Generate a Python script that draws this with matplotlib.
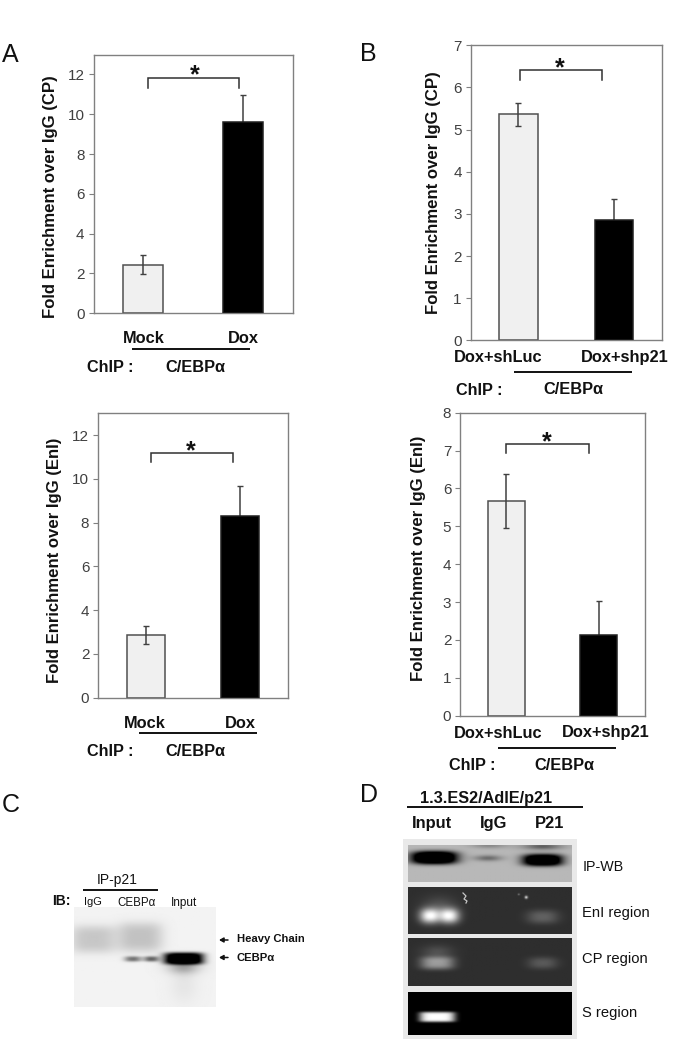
import numpy as np
import matplotlib
matplotlib.use("Agg")
import matplotlib.pyplot as plt

W, H = 673, 1042
plt.rcParams['font.family'] = ['Liberation Sans', 'DejaVu Sans']

# ---------- data ----------
values_a1 = [2.45, 9.62]
errors_a1 = [0.47, 1.35]
values_b1 = [5.36, 2.86]
errors_b1 = [0.28, 0.49]
values_a2 = [2.87, 8.30]
errors_a2 = [0.43, 1.37]
values_b2 = [5.67, 2.13]
errors_b2 = [0.71, 0.91]
cats_a = ["Mock", "Dox"]
cats_b = ["Dox+shLuc", "Dox+shp21"]
ylabel_cp = "Fold Enrichment over IgG (CP)"
ylabel_eni = "Fold Enrichment over IgG (EnI)"
ticks_a = [0, 2, 4, 6, 8, 10, 12]
ticks_b1 = [0, 1, 2, 3, 4, 5, 6, 7]
ticks_b2 = [0, 1, 2, 3, 4, 5, 6, 7, 8]

# band tuples: x, y, half-width, half-height, amplitude, sharpness
bands_c = [(93, 939, 23, 14, -0.17, 3.5), (140, 937, 23, 15, -0.19, 3.5),
           (132, 959, 8, 2.8, -0.36, 2.5), (152, 959, 7, 2.8, -0.42, 2.5),
           (142, 959, 16, 2.6, -0.15, 4),
           (184, 958.5, 20, 6.0, -1.3, 4.0),
           (184, 967, 16, 7, -0.30, 2), (184, 985, 14, 18, -0.05, 2)]
bands_d_wb = [(434, 857.5, 23, 6.5, -1.3, 3.0), (488, 858, 14, 3, -0.30, 2),
              (543, 860, 20, 6.0, -1.2, 3.0), (489, 845, 18, 3, -0.18, 2),
              (543, 846, 20, 3.5, -0.35, 2)]
bands_d_eni = [(429.5, 916, 10, 7.5, 0.78, 2.2), (449, 916, 10, 7.5, 0.78, 2.2),
               (439, 906, 17, 10, 0.14, 2), (543, 917, 16, 7, 0.20, 2.5),
               (526.5, 897, 1.5, 1.5, 0.7, 2), (519, 894, 1, 1, 0.3, 2)]
bands_d_cp = [(437, 963, 17, 6.5, 0.42, 3), (437, 952, 16, 7, 0.14, 2),
              (543, 963, 15, 6, 0.17, 2.5)]
bands_d_s = [(437, 1017, 18, 5.2, 1.0, 5)]


def blot(x0, x1, y0, y1, base, bands):
    xs = np.arange(x0, x1 + 1)
    ys = np.arange(y0, y1 + 1)
    X, Y = np.meshgrid(xs, ys)
    img = np.full(X.shape, float(base))
    for (bx, by, hw, hh, amp, p) in bands:
        img += amp * np.exp(-(np.abs((X - bx) / hw) ** p + np.abs((Y - by) / hh) ** p))
    return np.clip(img, 0, 1)


fig = plt.figure(figsize=(W / 100, H / 100), dpi=100, facecolor='white')


def axes_px(l, r, t, b):
    return fig.add_axes([l / W, 1 - b / H, (r - l) / W, (b - t) / H])


def bar_panel(box, vals, errs, ticks, ymax):
    ax = axes_px(*box)
    ax.errorbar([0, 1], vals, yerr=errs, fmt='none', ecolor='#404040',
                elinewidth=1.1, capsize=2.4, capthick=1.0, zorder=3)
    ax.bar([0], vals[0], width=0.4, color='#f0f0f0', edgecolor='#505050',
           linewidth=1.1, zorder=2)
    ax.bar([1], vals[1], width=0.4, color='#000000', edgecolor='#202020',
           linewidth=1.1, zorder=4)
    ax.set_xlim(-0.5, 1.5)
    ax.set_ylim(0, ymax)
    ax.set_xticks([])
    ax.set_yticks(ticks)
    ax.tick_params(axis='y', length=3.5, width=0.8, color='#808080',
                   labelcolor='#404040', labelsize=11, pad=3)
    for s in ax.spines.values():
        s.set_color('#808080')
        s.set_linewidth(1.0)
    return ax


bar_panel((93.5, 293, 54.5, 313.3), values_a1, errors_a1, ticks_a, 13)
bar_panel((470.7, 661.7, 45.3, 340.3), values_b1, errors_b1, ticks_b1, 7)
bar_panel((98.3, 287.7, 413.3, 697.7), values_a2, errors_a2, ticks_a, 13)
bar_panel((460.3, 644.7, 412.7, 715.7), values_b2, errors_b2, ticks_b2, 8)

# overlay in pixel coordinates for annotations and blots
ov = fig.add_axes([0, 0, 1, 1], zorder=10)
ov.patch.set_visible(False)
ov.axis('off')


def place_blot(x0, x1, y0, y1, base, bands):
    ov.imshow(blot(x0, x1, y0, y1, base, bands), cmap='gray', vmin=0, vmax=1,
              extent=(x0, x1, y1, y0), aspect='auto', interpolation='bilinear', zorder=2)


ov.add_patch(plt.Rectangle((403, 839), 174, 200, fc='#e9e9e9', ec='none', zorder=1))
place_blot(74, 216, 907, 1007, 0.95, bands_c)
place_blot(408, 572, 845, 882, 0.72, bands_d_wb)
place_blot(408, 572, 887, 934, 0.18, bands_d_eni)
place_blot(408, 572, 938, 986, 0.18, bands_d_cp)
place_blot(408, 572, 992, 1035, 0.0, bands_d_s)
ov.plot([463, 466, 464, 467, 466], [893, 896, 899, 901, 903], color='#c8c8c8', lw=0.9, zorder=3)
ov.set_xlim(0, W)
ov.set_ylim(H, 0)


def txt(x, y, s, size=11, bold=True, ha='center', color='#111111', rot=0):
    dx, dy = (2.5, 0) if rot else (0, 1)
    ov.text(x + dx, y + dy, s, fontsize=size, fontweight='bold' if bold else 'normal', ha=ha,
            va='center', color=color, rotation=rot, zorder=5)


def hline(x0, x1, y, lw=1.4):
    ov.plot([x0, x1], [y, y], color='#111111', lw=lw, solid_capstyle='butt', zorder=5)


def bracket(x0, x1, top, bottom, sx, sy):
    ov.plot([x0, x0, x1, x1], [bottom, top, top, bottom], color='#303030', lw=1.1,
            solid_joinstyle='miter', zorder=5)
    txt(sx, sy + 3, '*', size=18)


# panel letters
for (x, y, s) in [(2, 54, 'A'), (360, 53, 'B'), (2, 804, 'C'), (360, 794, 'D')]:
    txt(x, y, s, size=18, bold=False, ha='left')

# y labels
txt(48, 196.7, ylabel_cp, size=12.1, rot=90)
txt(430.7, 193, ylabel_cp, size=12.1, rot=90)
txt(51.7, 560, ylabel_eni, size=12.1, rot=90)
txt(416.3, 558.3, ylabel_eni, size=12.1, rot=90)

# group labels
txt(143.7, 337.7, cats_a[0], size=11.8)
txt(243, 337.7, cats_a[1], size=11.8)
hline(131.7, 249.7, 349.3)
txt(86.7, 366, 'ChIP :', size=11.7, ha='left')
txt(195, 366, 'C/EBPα', size=11.8)
bracket(148.3, 239, 77.7, 87.7, 194.7, 71.7)

txt(498, 356.7, cats_b[0], size=11.8)
txt(624.3, 356.7, cats_b[1], size=11.8)
hline(514, 631.7, 372.3)
txt(455.7, 389.3, 'ChIP :', size=11.7, ha='left')
txt(573, 388.5, 'C/EBPα', size=11.8)
bracket(520, 602.3, 70, 79.7, 560, 64.3)

txt(145.3, 722.7, cats_a[0], size=11.8)
txt(240.7, 722.7, cats_a[1], size=11.8)
hline(139.3, 257.3, 733.3)
txt(86.7, 750, 'ChIP :', size=11.7, ha='left')
txt(195, 750, 'C/EBPα', size=11.8)
bracket(151, 233, 452.7, 462.3, 190.7, 447.7)

txt(498, 732, cats_b[0], size=11.8)
txt(606, 732, cats_b[1], size=11.8)
hline(498.3, 616.3, 748.3)
txt(449.3, 764, 'ChIP :', size=11.7, ha='left')
txt(564, 765, 'C/EBPα', size=11.8)
bracket(506.3, 589, 443.7, 453.3, 546.7, 438.3)

# panel C text
txt(117.3, 879.3, 'IP-p21', size=10, bold=False)
hline(83.3, 158.3, 890)
txt(52.3, 900, 'IB:', size=10, ha='left')
txt(93.3, 901, 'IgG', size=8, bold=False)
txt(136, 901.7, 'CEBPα', size=8.3, bold=False)
txt(184, 901.7, 'Input', size=8.5, bold=False)
txt(236.7, 938.3, 'Heavy Chain', size=8.1, ha='left')
txt(236.7, 956.7, 'CEBPα', size=8.1, ha='left')
for y in [940, 957.5]:
    ov.annotate('', xy=(219, y), xytext=(228, y),
                arrowprops=dict(arrowstyle='-|>,head_length=0.25,head_width=0.14',
                                color='#111111', lw=1.1, shrinkA=0, shrinkB=0), zorder=5)

# panel D text
txt(485.7, 797.7, '1.3.ES2/AdIE/p21', size=11.7)
hline(406.7, 583.3, 806.7)
txt(431.7, 822.7, 'Input', size=11.9)
txt(494, 822.7, 'IgG', size=11.9)
txt(550, 822.7, 'P21', size=11.9)
txt(582.3, 866, 'IP-WB', size=10.3, ha='left', bold=False)
txt(581.5, 911.7, 'EnI region', size=10.6, ha='left', bold=False)
txt(582.3, 958.3, 'CP region', size=10.6, ha='left', bold=False)
txt(582.3, 1012.3, 'S region', size=10.6, ha='left', bold=False)

fig.savefig('out.png', dpi=100, facecolor='white')
